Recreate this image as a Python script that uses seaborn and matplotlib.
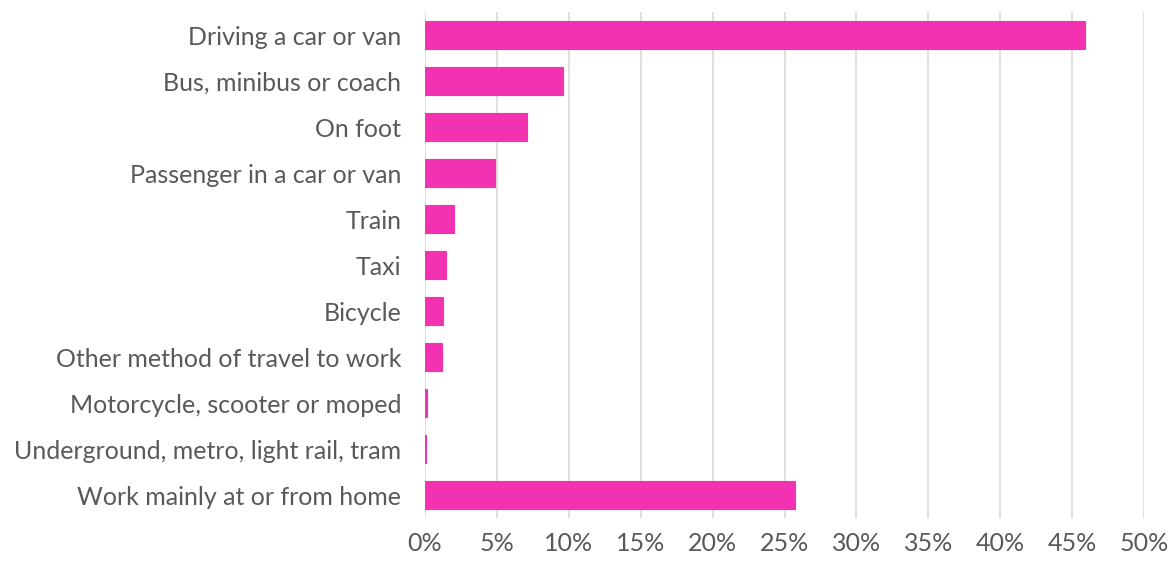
import matplotlib
matplotlib.use("Agg")
import matplotlib.pyplot as plt
import pandas as pd
import seaborn as sns
from matplotlib.ticker import FuncFormatter, MultipleLocator

methods = [
    "Driving a car or van",
    "Bus, minibus or coach",
    "On foot",
    "Passenger in a car or van",
    "Train",
    "Taxi",
    "Bicycle",
    "Other method of travel to work",
    "Motorcycle, scooter or moped",
    "Underground, metro, light rail, tram",
    "Work mainly at or from home",
]
shares = [45.9, 9.6, 7.1, 4.9, 2.0, 1.45, 1.25, 1.15, 0.17, 0.1, 25.75]

df = pd.DataFrame({"method": methods, "share": shares})

sns.set_style("whitegrid")
plt.rcParams["font.family"] = ["Lato", "DejaVu Sans"]

fig = plt.figure(figsize=(11.75, 5.61), dpi=100)
ax = fig.add_axes([0.3617, 0.0766, 0.612, 0.902])

sns.barplot(data=df, x="share", y="method", orient="h", color="#f232b0",
            saturation=1, width=0.62, edgecolor="#f232b0", linewidth=0.8, ax=ax)

ax.set_xlim(0, 50)
ax.set_ylim(10.5, -0.5)
ax.xaxis.set_major_locator(MultipleLocator(5))
ax.xaxis.set_major_formatter(FuncFormatter(lambda v, _: f"{v:.0f}%"))
ax.set_xlabel("")
ax.set_ylabel("")
ax.grid(axis="x", color="#d9d9d9", linewidth=1.2)
ax.grid(axis="y", visible=False)
for s in ax.spines.values():
    s.set_visible(False)
ax.tick_params(axis="y", length=0, pad=17, labelsize=18, labelcolor="#595959")
ax.tick_params(axis="x", length=0, pad=10, labelsize=18, labelcolor="#595959")

fig.savefig("out.png", dpi=100)
